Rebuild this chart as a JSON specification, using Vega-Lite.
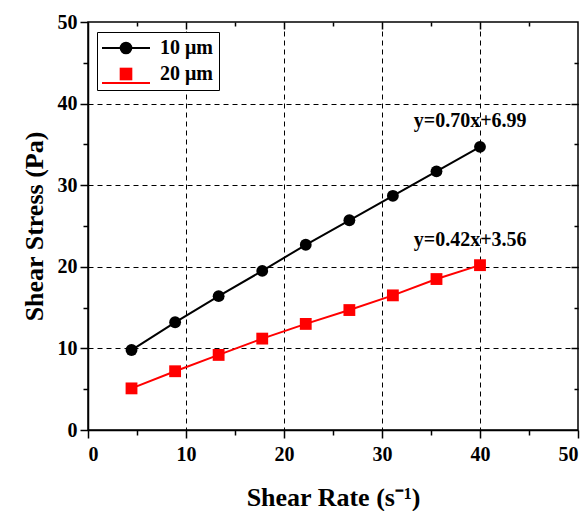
{
  "$schema": "https://vega.github.io/schema/vega-lite/v6.json",
  "autosize": "none",
  "padding": {"left": 88, "top": 22, "right": 10, "bottom": 81},
  "width": 490,
  "height": 408,
  "config": {
    "font": "Liberation Serif",
    "view": {"stroke": "black", "strokeWidth": 1.5},
    "axis": {
      "domainColor": "black", "domainWidth": 1.5, "tickColor": "black", "tickWidth": 1.5,
      "labelFont": "Liberation Serif", "labelFontWeight": "bold", "labelFontSize": 20, "labelColor": "black",
      "titleFont": "Liberation Serif", "titleFontWeight": "bold", "titleFontSize": 26, "titleColor": "black",
      "gridColor": "black", "gridDash": [5, 4], "gridWidth": 1
    },
    "legend": {"labelFont": "Liberation Serif", "labelFontWeight": "bold", "labelFontSize": 20, "labelColor": "black"}
  },
  "data": {
    "values": [
      {"series": "10 μm", "rate": 4.44, "stress": 9.8},
      {"series": "10 μm", "rate": 8.89, "stress": 13.2},
      {"series": "10 μm", "rate": 13.33, "stress": 16.4},
      {"series": "10 μm", "rate": 17.78, "stress": 19.5},
      {"series": "10 μm", "rate": 22.22, "stress": 22.7},
      {"series": "10 μm", "rate": 26.67, "stress": 25.7},
      {"series": "10 μm", "rate": 31.11, "stress": 28.7},
      {"series": "10 μm", "rate": 35.56, "stress": 31.7},
      {"series": "10 μm", "rate": 40.0, "stress": 34.7},
      {"series": "20 μm", "rate": 4.44, "stress": 5.1},
      {"series": "20 μm", "rate": 8.89, "stress": 7.2},
      {"series": "20 μm", "rate": 13.33, "stress": 9.2},
      {"series": "20 μm", "rate": 17.78, "stress": 11.2},
      {"series": "20 μm", "rate": 22.22, "stress": 13.0},
      {"series": "20 μm", "rate": 26.67, "stress": 14.7},
      {"series": "20 μm", "rate": 31.11, "stress": 16.5},
      {"series": "20 μm", "rate": 35.56, "stress": 18.5},
      {"series": "20 μm", "rate": 40.0, "stress": 20.2}
    ]
  },
  "resolve": {"axis": {"x": "independent", "y": "independent"}},
  "layer": [
    {
      "mark": {"type": "line", "strokeWidth": 2},
      "encoding": {
        "x": {"field": "rate", "type": "quantitative", "scale": {"domain": [0, 50], "nice": false},
          "axis": {"orient": "bottom", "title": "Shear Rate (s⁻¹)", "values": [0,5,10,15,20,25,30,35,40,45,50],
            "labelExpr": "datum.value % 10 === 0 ? datum.label : ''",
            "tickSize": {"condition": {"test": "datum.value % 10 === 0", "value": 8}, "value": 5},
            "labelPadding": 6, "titlePadding": 20,
            "grid": true,
            "gridOpacity": {"condition": {"test": "datum.value % 10 === 0 && datum.value > 0 && datum.value < 50", "value": 1}, "value": 0}}},
        "y": {"field": "stress", "type": "quantitative", "scale": {"domain": [0, 50], "nice": false},
          "axis": {"orient": "left", "title": "Shear Stress (Pa)", "values": [0,5,10,15,20,25,30,35,40,45,50],
            "labelExpr": "datum.value % 10 === 0 ? datum.label : ''",
            "tickSize": {"condition": {"test": "datum.value % 10 === 0", "value": 8}, "value": 5},
            "labelPadding": 3, "titlePadding": 10,
            "grid": true,
            "gridOpacity": {"condition": {"test": "datum.value % 10 === 0 && datum.value > 0 && datum.value < 50", "value": 1}, "value": 0}}},
        "color": {"field": "series", "type": "nominal", "scale": {"domain": ["10 μm", "20 μm"], "range": ["black", "red"]},
          "legend": {"title": null, "orient": "none", "legendX": 9, "legendY": -5, "zindex": 2,
            "padding": 6, "symbolType": "stroke", "symbolSize": 2304, "symbolStrokeWidth": 2, "symbolOffset": -2,
            "labelOffset": 4, "rowPadding": -26, "labelOpacity": 0}}
      }
    },
    {
      "mark": {"type": "point", "filled": true, "opacity": 1},
      "encoding": {
        "x": {"field": "rate", "type": "quantitative", "scale": {"domain": [0, 50], "nice": false},
          "axis": {"orient": "top", "title": null, "labels": false, "values": [5,10,15,20,25,30,35,40,45],
            "tickSize": {"condition": {"test": "datum.value % 10 === 0", "value": -7}, "value": -4}, "domain": false, "grid": false}},
        "y": {"field": "stress", "type": "quantitative", "scale": {"domain": [0, 50], "nice": false},
          "axis": {"orient": "right", "title": null, "labels": false, "values": [5,10,15,20,25,30,35,40,45],
            "tickSize": {"condition": {"test": "datum.value % 10 === 0", "value": -7}, "value": -4}, "domain": false, "grid": false}},
        "shape": {"field": "series", "type": "nominal", "scale": {"range": ["circle", "square"]},
          "legend": {"title": null, "orient": "none", "legendX": 9, "legendY": 10, "padding": 6, "zindex": 1,
            "strokeColor": "black", "fillColor": "white",
            "symbolOffset": 13, "labelOffset": 24, "rowPadding": 6, "symbolSize": 160, "symbolStrokeWidth": 0}},
        "fill": {"field": "series", "type": "nominal", "scale": {"range": ["black", "red"]},
          "legend": {"title": null, "orient": "none", "legendX": 9, "legendY": 10, "padding": 6, "zindex": 1,
            "strokeColor": "black", "fillColor": "white",
            "symbolOffset": 13, "labelOffset": 24, "rowPadding": 6, "symbolSize": 160, "symbolStrokeWidth": 0}},
        "size": {"value": 140}
      }
    },
    {
      "data": {"values": [
        {"rate": 39.0, "stress": 37.9, "label": "y=0.70x+6.99"},
        {"rate": 39.0, "stress": 23.3, "label": "y=0.42x+3.56"}
      ]},
      "mark": {"type": "text", "font": "Liberation Serif", "fontWeight": "bold", "fontSize": 20, "color": "black", "baseline": "middle"},
      "encoding": {
        "x": {"field": "rate", "type": "quantitative", "axis": null},
        "y": {"field": "stress", "type": "quantitative", "axis": null},
        "text": {"field": "label"}
      }
    }
  ]
}
